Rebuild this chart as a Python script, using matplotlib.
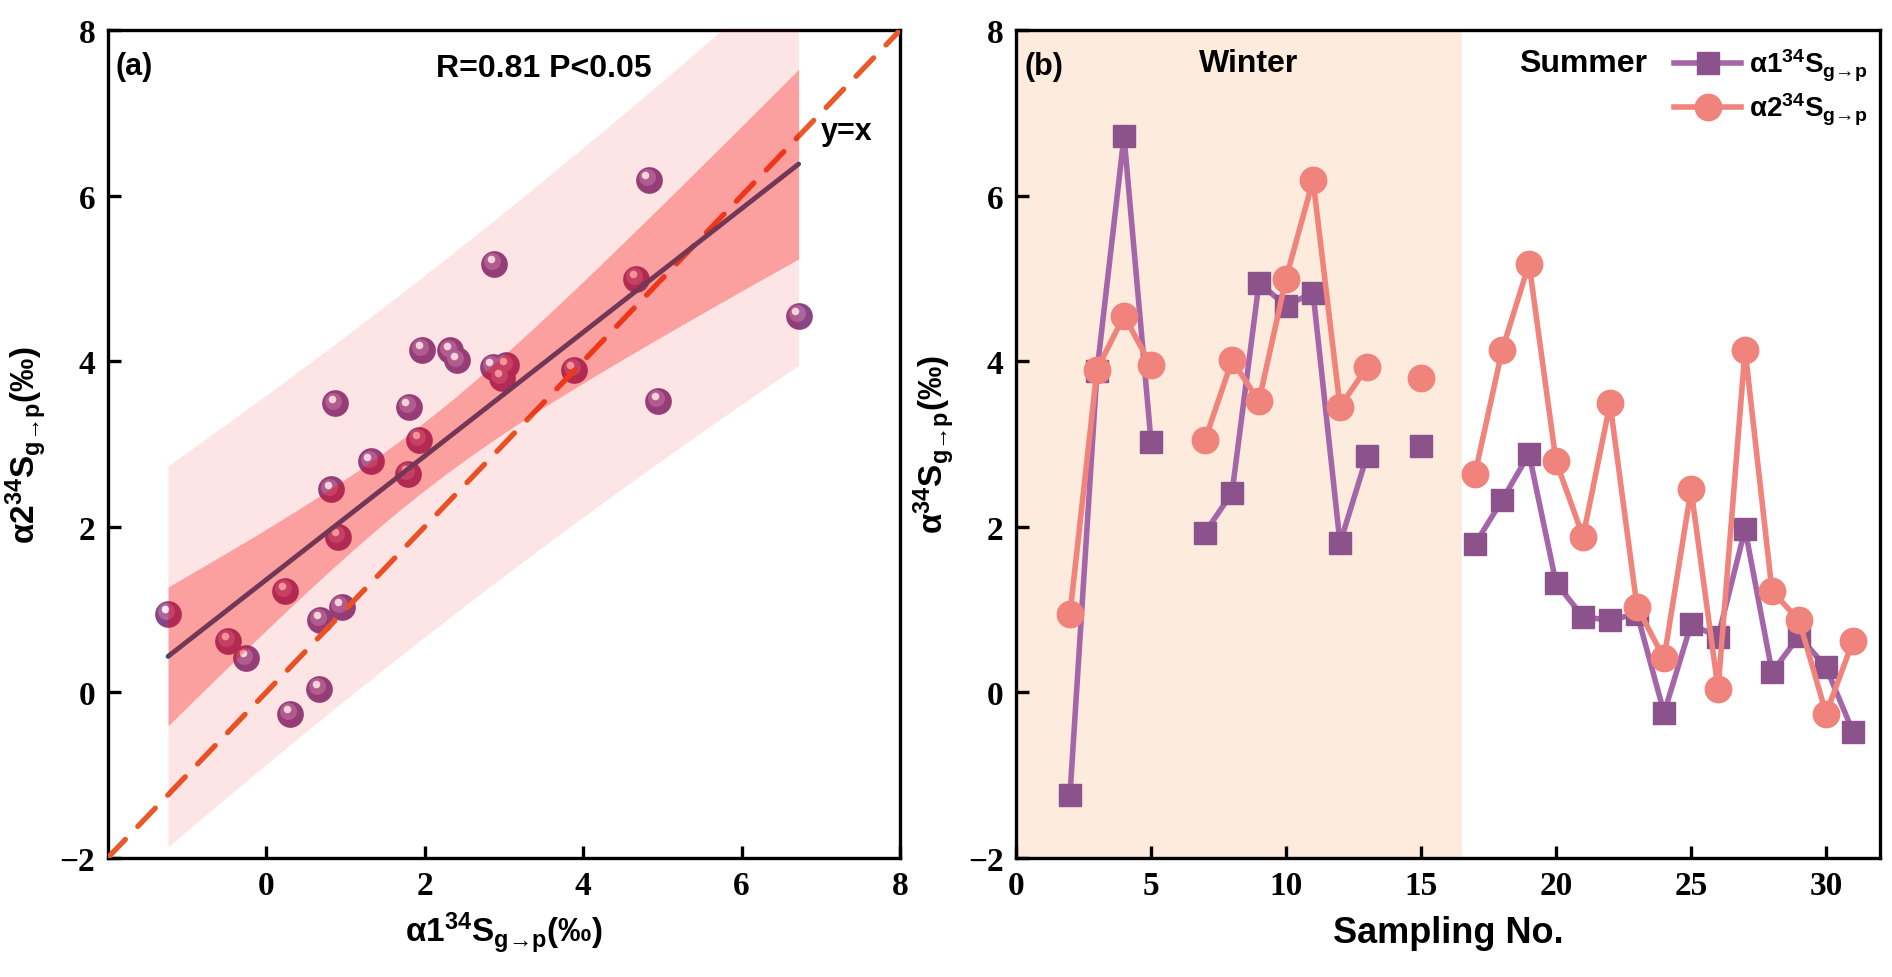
import matplotlib.pyplot as plt
import numpy as np
from matplotlib.transforms import offset_copy

plt.rcParams['font.family'] = ['Liberation Sans', 'DejaVu Sans']
plt.rcParams['font.weight'] = 'bold'
plt.rcParams['axes.labelweight'] = 'bold'
plt.rcParams['mathtext.fontset'] = 'custom'
plt.rcParams['mathtext.rm'] = 'Liberation Sans:bold'
plt.rcParams['mathtext.it'] = 'Liberation Sans:bold'
plt.rcParams['mathtext.bf'] = 'Liberation Sans:bold'

nan = np.nan

# Data
sample_no = list(range(2, 32))
alpha1 = [-1.24, 3.88, 6.72, 3.03, nan, 1.93, 2.41, 4.95, 4.67, 4.83,
          1.80, 2.86, nan, 2.97, nan, 1.79, 2.32, 2.88, 1.32, 0.91,
          0.87, 0.95, -0.25, 0.82, 0.67, 1.97, 0.24, 0.68, 0.30, -0.48]
alpha2 = [0.95, 3.90, 4.55, 3.95, nan, 3.05, 4.01, 3.52, 5.00, 6.19,
          3.45, 3.93, nan, 3.80, nan, 2.64, 4.13, 5.18, 2.79, 1.88,
          3.49, 1.03, 0.41, 2.45, 0.04, 4.14, 1.22, 0.87, -0.26, 0.62]
winter_end = 16.5
t_crit = 2.06  # t(0.975, df=25)

a1 = np.array(alpha1)
a2 = np.array(alpha2)

xlab_a = r'α1$^{34}$S$_{g→p}$(‰)'
ylab_a = r'α2$^{34}$S$_{g→p}$(‰)'
ylab_b = r'α$^{34}$S$_{g→p}$(‰)'
leg1 = r'α1$^{34}$S$_{g→p}$'
leg2 = r'α2$^{34}$S$_{g→p}$'

fig = plt.figure(figsize=(18.92, 9.78), dpi=100)
ax1 = fig.add_axes([0.057, 0.122, 0.4187, 0.846])
ax2 = fig.add_axes([0.537, 0.122, 0.4567, 0.846])

tick_font = {'family': 'Liberation Serif', 'weight': 'bold', 'size': 24}


def style_axes(ax):
    for s in ax.spines.values():
        s.set_linewidth(2.4)
    ax.tick_params(direction='in', length=9, width=2.4, pad=9)
    for lab in ax.get_xticklabels() + ax.get_yticklabels():
        lab.set_fontproperties(tick_font)


# ---- panel (a)
mask = ~np.isnan(a1) & ~np.isnan(a2)
x = a1[mask]
y = a2[mask]
n = len(x)
slope, icpt = np.polyfit(x, y, 1)
xs = np.linspace(x.min(), x.max(), 200)
fit = slope * xs + icpt
resid = y - (slope * x + icpt)
s_err = np.sqrt(np.sum(resid ** 2) / (n - 2))
sxx = np.sum((x - x.mean()) ** 2)
ci = t_crit * s_err * np.sqrt(1 / n + (xs - x.mean()) ** 2 / sxx)
pi = t_crit * s_err * np.sqrt(1 + 1 / n + (xs - x.mean()) ** 2 / sxx)

# spheres
ax1.scatter(x, y, s=370, color='#8A4584', zorder=2, linewidths=0)
ax1.scatter(x, y, s=150, color='#A9679F', zorder=2, linewidths=0,
            transform=offset_copy(ax1.transData, fig=fig, x=-1.5, y=2.0, units='points'))
ax1.scatter(x, y, s=30, color='#F6EAF4', zorder=2, linewidths=0,
            transform=offset_copy(ax1.transData, fig=fig, x=-2.5, y=3.5, units='points'))

ax1.plot([-2, 8], [-2, 8], color='#E85A28', lw=3.8, dashes=(4.8, 3.4),
         dash_capstyle='round', zorder=3)
ax1.plot(xs, fit, color='#22588A', lw=3.5, zorder=3, solid_capstyle='round')

ax1.fill_between(xs, fit - pi, fit + pi, color='#F80000', alpha=0.10, lw=0, zorder=4)
ax1.fill_between(xs, fit - ci, fit + ci, color='#F80000', alpha=0.30, lw=0, zorder=5)

ax1.set_xlim(-2, 8)
ax1.set_ylim(-2, 8)
ax1.set_xticks([0, 2, 4, 6, 8])
ax1.set_yticks([-2, 0, 2, 4, 6, 8])
ax1.set_xlabel(xlab_a, fontsize=24, labelpad=6)
ax1.set_ylabel(ylab_a, fontsize=24, labelpad=8)
ax1.text(0.010, 0.975, '(a)', transform=ax1.transAxes, fontsize=22,
         ha='left', va='top', fontweight='bold')
ax1.text(3.5, 7.55, 'R=0.81 P<0.05', fontsize=23, ha='center', va='center',
         fontweight='bold')
ax1.text(7.0, 6.78, 'y=x', fontsize=22, ha='left', va='center', fontweight='bold')
style_axes(ax1)

# ---- panel (b)
ax2.axvspan(0, winter_end, color='#FDEBDD', lw=0, zorder=0)
ax2.plot(sample_no, alpha1, color='#A566A9', lw=4, marker='s', ms=16,
         mfc='#8B528C', mec='#8B528C', zorder=3, label=leg1)
ax2.plot(sample_no, alpha2, color='#F0837B', lw=4, marker='o', ms=19,
         mfc='#F0837B', mec='#F0837B', zorder=4, label=leg2)

ax2.set_xlim(0, 32)
ax2.set_ylim(-2, 8)
ax2.set_xticks([0, 5, 10, 15, 20, 25, 30])
ax2.set_yticks([-2, 0, 2, 4, 6, 8])
ax2.set_xlabel('Sampling No.', fontsize=26, labelpad=10)
ax2.set_ylabel(ylab_b, fontsize=24, labelpad=8)
ax2.text(0.010, 0.975, '(b)', transform=ax2.transAxes, fontsize=22,
         ha='left', va='top', fontweight='bold')
ax2.text(8.6, 7.6, 'Winter', fontsize=23, ha='center', va='center', fontweight='bold')
ax2.text(21.0, 7.6, 'Summer', fontsize=23, ha='center', va='center', fontweight='bold')
ax2.legend(loc='upper right', bbox_to_anchor=(1.005, 1.0), frameon=False,
           fontsize=20, handlelength=2.4, handletextpad=0.3, borderaxespad=0.2,
           labelspacing=0.3)
style_axes(ax2)

plt.savefig('out.png', dpi=100)
